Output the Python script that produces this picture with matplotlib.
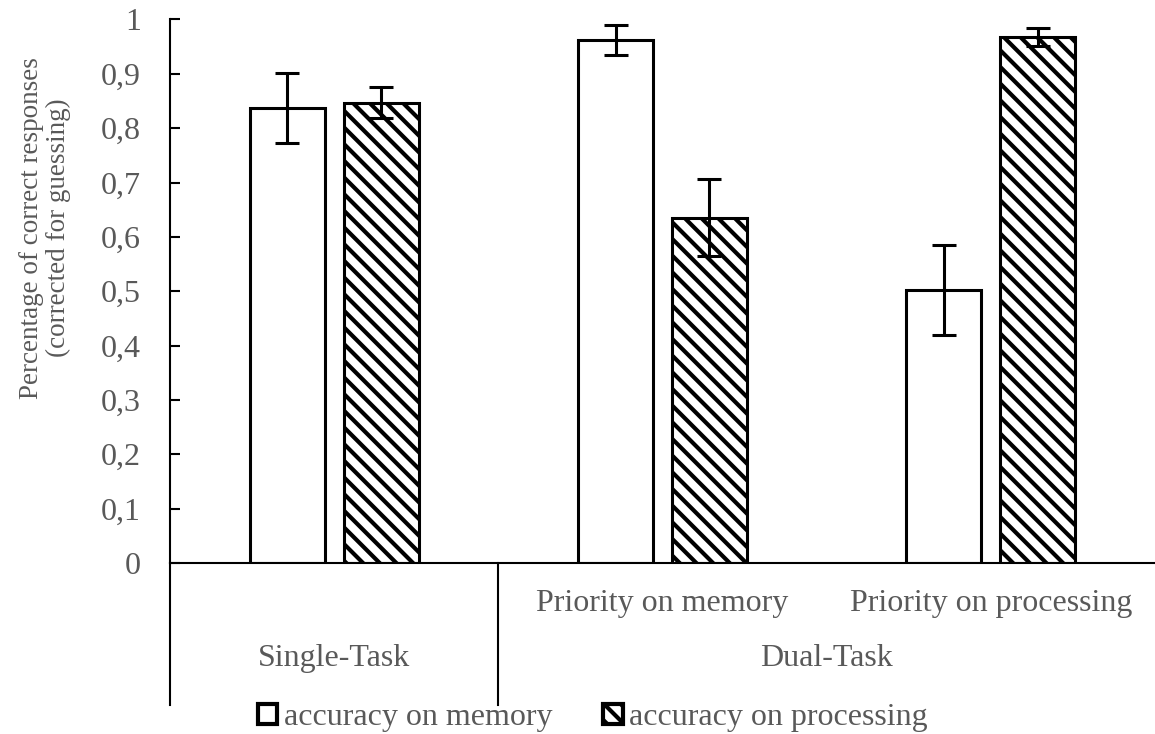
import numpy as np
import matplotlib.pyplot as plt
import matplotlib.transforms as mtransforms
from matplotlib.patches import Patch

plt.rcParams['font.family'] = ['Liberation Serif', 'DejaVu Serif']
plt.rcParams['hatch.linewidth'] = 3.0

# data
sub_labels = ['', 'Priority on memory', 'Priority on processing']
group_labels = ['Single-Task', 'Dual-Task']
memory = [0.837, 0.962, 0.502]
memory_err = [0.064, 0.028, 0.083]
processing = [0.847, 0.635, 0.968]
processing_err = [0.029, 0.071, 0.017]
yticks = [0, 0.1, 0.2, 0.3, 0.4, 0.5, 0.6, 0.7, 0.8, 0.9, 1]

grey = '#595959'
fs = 23

fig = plt.figure(figsize=(11.55, 7.34), dpi=100)
ax = fig.add_axes([170 / 1155, 1 - 563 / 734, 1 - 170 / 1155, (563 - 19.5) / 734])

x = np.arange(len(memory))
w = 0.229
off = 0.143
ekw = dict(ecolor='black', elinewidth=2.2, capsize=8.5, capthick=2.2)
ax.bar(x - off, memory, w, color='white', edgecolor='black', linewidth=2.2,
       yerr=memory_err, error_kw=ekw)
ax.bar(x + off, processing, w, color='white', edgecolor='black', linewidth=2.2, hatch='\\\\',
       yerr=processing_err, error_kw=ekw)

ax.set_xlim(-0.5, 2.5)
ax.set_ylim(0, 1)
ax.set_yticks(yticks)
ax.set_yticklabels([('%g' % t).replace('.', ',') for t in yticks], fontsize=fs, color=grey)
ax.tick_params(axis='y', direction='in', length=7, width=1.5, pad=21)
ax.set_xticks([])
for s in ['top', 'right']:
    ax.spines[s].set_visible(False)
ax.spines['left'].set_linewidth(1.5)
ax.spines['bottom'].set_linewidth(1.5)

# multi-level category axis
trans = mtransforms.blended_transform_factory(ax.transData, ax.transAxes)
for xs in [-0.5, 0.5]:
    ax.plot([xs, xs], [0, -0.261], transform=trans, color='black', lw=1.5, clip_on=False)
for i, lab in enumerate(sub_labels):
    if lab:
        ax.text(i, -0.0736, lab, transform=trans, ha='center', va='center', fontsize=fs, color=grey)
ax.text(0, -0.175, group_labels[0], transform=trans, ha='center', va='center', fontsize=fs, color=grey)
ax.text(1.5, -0.175, group_labels[1], transform=trans, ha='center', va='center', fontsize=fs, color=grey)

fig.text(45 / 1155, 1 - 228 / 734, 'Percentage of correct responses\n(corrected for guessing)',
         rotation=90, ha='center', va='center', fontsize=19.5, color=grey, linespacing=1.1)

handles = [Patch(facecolor='white', edgecolor='black', linewidth=3),
           Patch(facecolor='white', edgecolor='black', linewidth=3, hatch='\\\\')]
fig.legend(handles, ['accuracy on memory', 'accuracy on processing'], loc='center',
           bbox_to_anchor=(593 / 1155, 1 - 718 / 734), ncol=2, frameon=False, fontsize=fs,
           labelcolor=grey, handlelength=0.6, handleheight=0.6, handletextpad=0.2,
           columnspacing=1.6)

fig.savefig('out.png', dpi=100)
